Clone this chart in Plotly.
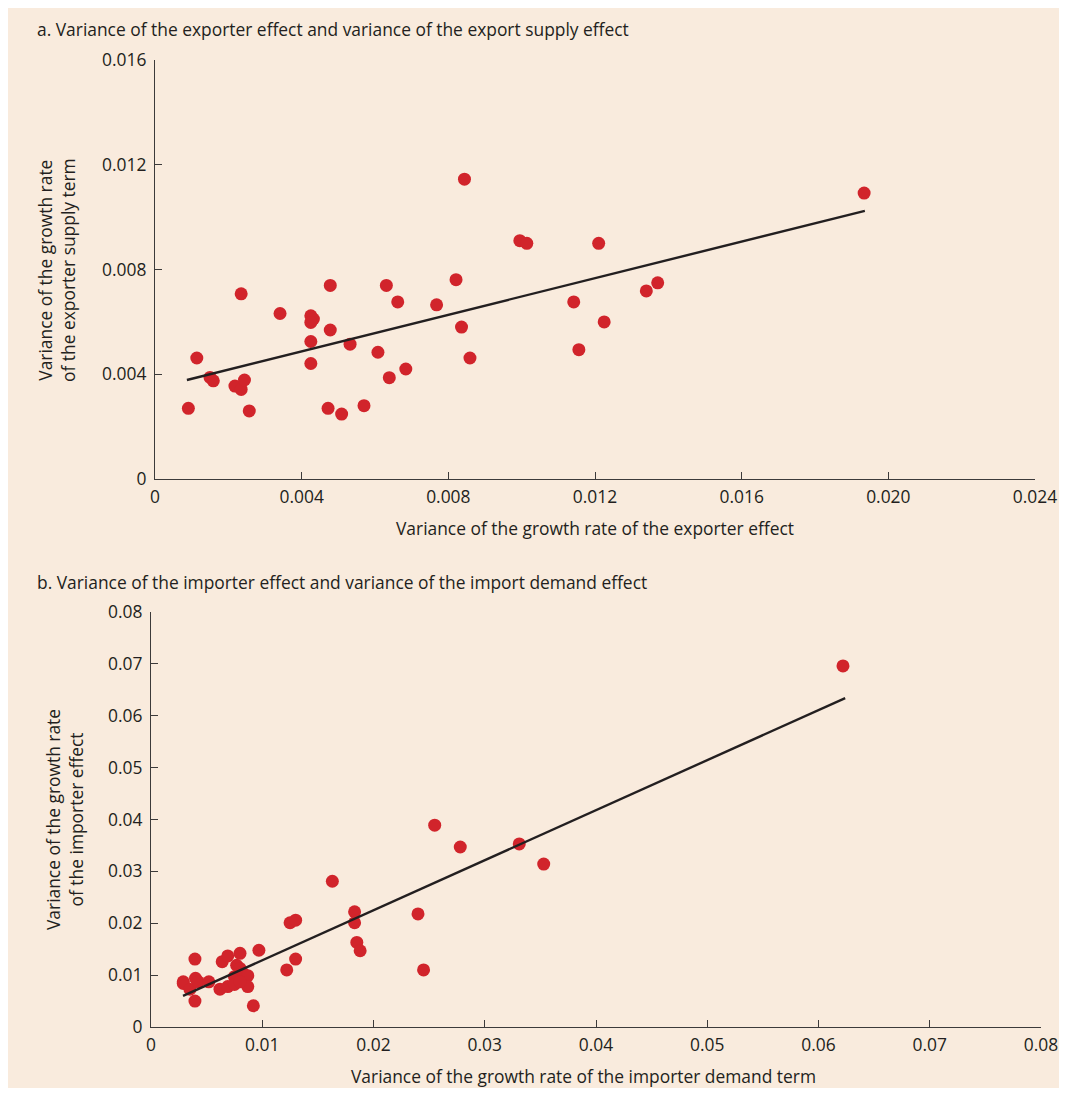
import plotly.graph_objects as go

# ---------------- data ----------------
# Panel a: exporter effect (x) vs exporter supply term (y)
a_x = [0.00091, 0.00114, 0.00150, 0.00159, 0.00235, 0.00218, 0.00235, 0.00244, 0.00257,
       0.00341, 0.00425, 0.00432, 0.00425, 0.00478, 0.00478, 0.00425, 0.00425, 0.00472,
       0.00509, 0.00532, 0.00570, 0.00608, 0.00631, 0.00639, 0.00662, 0.00684, 0.00768,
       0.00821, 0.00836, 0.00844, 0.00859, 0.00995, 0.01014, 0.01210, 0.01142, 0.01225,
       0.01156, 0.01340, 0.01371, 0.01934]
a_y = [0.00270, 0.00462, 0.00388, 0.00375, 0.00707, 0.00355, 0.00342, 0.00378, 0.00260,
       0.00632, 0.00623, 0.00611, 0.00598, 0.00739, 0.00569, 0.00525, 0.00441, 0.00270,
       0.00248, 0.00515, 0.00280, 0.00484, 0.00739, 0.00387, 0.00676, 0.00420, 0.00665,
       0.00761, 0.00580, 0.01145, 0.00462, 0.00910, 0.00900, 0.00900, 0.00676, 0.00600,
       0.00494, 0.00718, 0.00749, 0.01092]
trend_a_x = [0.00087, 0.01936]
trend_a_y = [0.00378, 0.01024]

# Panel b: importer demand term (x) vs importer effect (y)
b_x = [0.0622, 0.0255, 0.0278, 0.0331, 0.0353, 0.0163, 0.0240, 0.0245, 0.0183, 0.0183,
       0.0185, 0.0188, 0.0125, 0.0130, 0.0130, 0.0122,
       0.00395, 0.0029, 0.0029, 0.0035, 0.0040, 0.00425, 0.0052, 0.00395, 0.0064, 0.0069,
       0.0080, 0.0097, 0.0077, 0.0080, 0.0075, 0.0083, 0.0087, 0.0062, 0.0069, 0.0075,
       0.0087, 0.0092, 0.0080]
b_y = [0.0696, 0.0389, 0.0347, 0.0353, 0.0314, 0.0281, 0.0218, 0.0110, 0.0222, 0.0201,
       0.0163, 0.0147, 0.0201, 0.0206, 0.0131, 0.0110,
       0.0131, 0.0087, 0.0084, 0.0073, 0.0094, 0.0087, 0.0087, 0.0050, 0.0126, 0.0137,
       0.0142, 0.0148, 0.0119, 0.0113, 0.0097, 0.0103, 0.0099, 0.0073, 0.0078, 0.0082,
       0.0078, 0.0041, 0.0087]
trend_b_x = [0.00288, 0.0624]
trend_b_y = [0.0060, 0.0634]

a_xticks = [0, 0.004, 0.008, 0.012, 0.016, 0.020, 0.024]
a_xlabels = ["0", "0.004", "0.008", "0.012", "0.016", "0.020", "0.024"]
a_yticks = [0, 0.004, 0.008, 0.012, 0.016]
a_ylabels = ["0", "0.004", "0.008", "0.012", "0.016"]
b_ticks = [0, 0.01, 0.02, 0.03, 0.04, 0.05, 0.06, 0.07, 0.08]
b_labels = ["0", "0.01", "0.02", "0.03", "0.04", "0.05", "0.06", "0.07", "0.08"]

title_a = "a. Variance of the exporter effect and variance of the export supply effect"
title_b = "b. Variance of the importer effect and variance of the import demand effect"
xtitle_a = "Variance of the growth rate of the exporter effect"
ytitle_a = "Variance of the growth rate<br>of the exporter supply term"
xtitle_b = "Variance of the growth rate of the importer demand term"
ytitle_b = "Variance of the growth rate<br>of the importer effect"

# ---------------- styling ----------------
W, H = 1051, 1080
BG = "#F9EBDD"
RED = "#D1242B"
INK = "#231F20"
AX = "#3C3A3A"
FONT = "Open Sans"
FS = 17.4
TFS = 17.4


def px(fx):
    return fx / W


def py(fy):
    return 1 - fy / H


fig = go.Figure()

fig.add_trace(go.Scatter(x=a_x, y=a_y, mode="markers", xaxis="x", yaxis="y",
                         marker=dict(color=RED, size=13, line=dict(width=0)),
                         showlegend=False, hoverinfo="x+y"))
fig.add_trace(go.Scatter(x=trend_a_x, y=trend_a_y, mode="lines", xaxis="x", yaxis="y",
                         line=dict(color=INK, width=2.4), showlegend=False))
fig.add_trace(go.Scatter(x=b_x, y=b_y, mode="markers", xaxis="x2", yaxis="y2",
                         marker=dict(color=RED, size=13, line=dict(width=0)),
                         showlegend=False, hoverinfo="x+y"))
fig.add_trace(go.Scatter(x=trend_b_x, y=trend_b_y, mode="lines", xaxis="x2", yaxis="y2",
                         line=dict(color=INK, width=2.4), showlegend=False))

axis_common = dict(showline=True, linecolor=AX, linewidth=1.3, ticks="inside",
                   ticklen=7, tickwidth=1.3, tickcolor=AX, showgrid=False,
                   zeroline=False, tickfont=dict(family=FONT, size=TFS, color=INK),
                   automargin=False, fixedrange=True)

fig.update_layout(
    width=W, height=H,
    margin=dict(l=0, r=0, t=0, b=0),
    paper_bgcolor=BG, plot_bgcolor=BG,
    font=dict(family=FONT, size=FS, color=INK),
    xaxis=dict(domain=[px(147), px(1027)], range=[0, 0.024], tickvals=a_xticks,
               ticktext=a_xlabels, anchor="y", ticklabelstandoff=2, **axis_common),
    yaxis=dict(domain=[py(471), py(52)], range=[0, 0.016], tickvals=a_yticks,
               ticktext=a_ylabels, anchor="x", ticklabelstandoff=4, **axis_common),
    xaxis2=dict(domain=[px(143), px(1033)], range=[0, 0.08], tickvals=b_ticks,
                ticktext=b_labels, anchor="y2", ticklabelstandoff=2, **axis_common),
    yaxis2=dict(domain=[py(1019), py(604)], range=[0, 0.08], tickvals=b_ticks,
                ticktext=b_labels, anchor="x2", ticklabelstandoff=4, **axis_common),
)

ann = dict(xref="paper", yref="paper", showarrow=False,
           font=dict(family=FONT, size=FS, color=INK))
fig.add_annotation(text=title_a, x=px(27), y=py(21), xanchor="left", yanchor="middle", **ann)
fig.add_annotation(text=title_b, x=px(27), y=py(574), xanchor="left", yanchor="middle", **ann)
fig.add_annotation(text=xtitle_a, x=px(587), y=py(520), xanchor="center", yanchor="middle", **ann)
fig.add_annotation(text=xtitle_b, x=px(575), y=py(1068), xanchor="center", yanchor="middle", **ann)
fig.add_annotation(text=ytitle_a, x=px(48), y=py(262), xanchor="center", yanchor="middle",
                   textangle=-90, **ann)
fig.add_annotation(text=ytitle_b, x=px(56), y=py(812), xanchor="center", yanchor="middle",
                   textangle=-90, **ann)

fig.write_html("out.html", config={"displayModeBar": False})
